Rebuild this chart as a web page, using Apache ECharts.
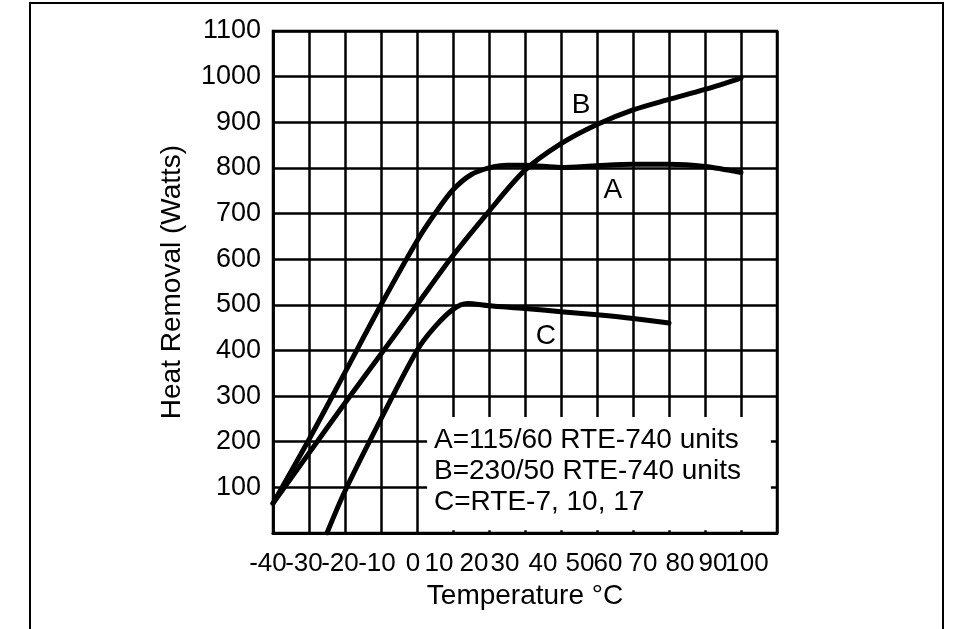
<!DOCTYPE html>
<html>
<head>
<meta charset="utf-8">
<style>
  html, body { margin: 0; padding: 0; background: #fff; }
  #chart { width: 964px; height: 629px; }
</style>
<script src="https://cdn.jsdelivr.net/npm/echarts@6/dist/echarts.min.js"></script>
</head>
<body>
<div id="chart"></div>
<script>
// ---- data ----
const tempA = [-40, -30, -20, -10, 0, 5, 10, 15, 20, 25, 30, 40, 50, 60, 70, 80, 90];
const heatA = [65, 205, 352, 500, 640, 700, 752, 785, 800, 806, 806, 801, 805, 808, 808, 803, 790];

const tempB = [-40, -30, -20, -10, 0, 10, 20, 30, 40, 50, 60, 70, 80, 90];
const heatB = [65, 175, 285, 392, 500, 608, 705, 795, 853, 895, 927, 950, 972, 997];

const tempC = [-25, -20, -10, 0, 5, 10, 14, 20, 30, 40, 50, 60, 70];
const heatC = [0, 92, 250, 400, 452, 490, 503, 498, 492, 485, 478, 470, 460];

const xTickLabels = ['-40', '-30', '-20', '-10', '0', '10', '20', '30', '40', '50', '60', '70', '80', '90', '100'];
const yTickLabels = ['', '100', '200', '300', '400', '500', '600', '700', '800', '900', '1000', '1100'];

const curveNames = ['A', 'B', 'C'];
const curveTagX = [54.4, 45.6, 35.8];
const curveTagY = [750, 938, 432];

const legendLines = ['A=115/60 RTE-740 units', 'B=230/50 RTE-740 units', 'C=RTE-7, 10, 17'];

// ---- style constants ----
const FONT = '"Liberation Sans", Arial, Helvetica, sans-serif';
// leftward shift (px) of each x tick label, as in the reference print
const xLabelShift = [5, 5, 5, 4, 4, 14, 15, 20, 18, 17, 25, 26, 25, 28, 30];

function pairs(xs, ys) { return xs.map((x, i) => [x, ys[i]]); }

const rich = {};
xLabelShift.forEach((s, i) => {
  rich['s' + i] = { fontSize: 26, fontFamily: FONT, color: '#000', padding: [0, 2 * s, 0, 0] };
});

// x tick labels split over two coincident axes (even / odd ticks) so none is dropped
function xLabelAxis(parity, extra) {
  return Object.assign({
    type: 'value',
    min: -40, max: 100, interval: 10,
    position: 'bottom',
    axisTick: { show: false },
    axisLabel: {
      margin: 18,
      showMinLabel: true,
      showMaxLabel: true,
      hideOverlap: false,
      formatter: v => {
        const i = Math.round((v + 40) / 10);
        return (i % 2 === parity) ? '{s' + i + '|' + xTickLabels[i] + '}' : '';
      },
      rich: rich,
      fontSize: 26, fontFamily: FONT, color: '#000'
    }
  }, extra);
}

const chart = echarts.init(document.getElementById('chart'), null, { renderer: 'canvas' });

const seriesData = [pairs(tempA, heatA), pairs(tempB, heatB), pairs(tempC, heatC)];

const series = seriesData.map((d, i) => ({
  type: 'line',
  name: curveNames[i],
  xAxisIndex: 0,
  data: d,
  smooth: 0.3,
  symbol: 'none',
  lineStyle: { color: '#000', width: 5, cap: 'round' },
  clip: true,
  markPoint: {
    symbol: 'circle',
    symbolSize: 1,
    itemStyle: { color: 'rgba(0,0,0,0)' },
    label: { show: true, position: 'inside', formatter: curveNames[i], fontSize: 28, fontFamily: FONT, color: '#000' },
    data: [{ coord: [curveTagX[i], curveTagY[i]] }]
  }
}));

// white legend box hiding the grid in the lower right
series[0].markArea = {
  silent: true,
  itemStyle: { color: '#fff', opacity: 1 },
  data: [[{ coord: [2.8, 6] }, { coord: [98.3, 254] }]]
};

chart.setOption({
  animation: false,
  backgroundColor: '#fff',
  grid: { left: 273, top: 31, right: 187, bottom: 96, show: true, borderColor: '#000', borderWidth: 2.5 },
  xAxis: [
    xLabelAxis(0, {
      name: 'Temperature °C',
      nameLocation: 'middle',
      nameGap: 44,
      nameTextStyle: { fontSize: 28, fontFamily: FONT, color: '#000' },
      axisLine: { show: true, onZero: false, lineStyle: { color: '#000', width: 3 } },
      splitLine: { show: true, lineStyle: { color: '#000', width: 2.5 } }
    }),
    xLabelAxis(1, {
      axisLine: { show: false, onZero: false },
      splitLine: { show: false }
    })
  ],
  yAxis: {
    type: 'value',
    min: 0, max: 1100, interval: 100,
    name: 'Heat Removal (Watts)',
    nameLocation: 'middle',
    nameGap: 87,
    nameTextStyle: { fontSize: 28, fontFamily: FONT, color: '#000' },
    axisLine: { show: true, onZero: false, lineStyle: { color: '#000', width: 2.5 } },
    axisTick: { show: false },
    splitLine: { show: true, lineStyle: { color: '#000', width: 2.5 } },
    axisLabel: {
      margin: 12,
      showMinLabel: true,
      showMaxLabel: true,
      formatter: v => yTickLabels[Math.round(v / 100)],
      fontSize: 27, fontFamily: FONT, color: '#000'
    }
  },
  graphic: [
    {
      type: 'polyline',
      shape: { points: [[30, 629], [30, 3], [943, 3], [943, 629]] },
      style: { stroke: '#000', lineWidth: 2, fill: null },
      silent: true
    }
  ].concat(legendLines.map((t, i) => ({
    type: 'text',
    left: 434,
    top: 426 + i * 31,
    z: 10,
    style: { text: t, font: '28px ' + FONT, fill: '#000' },
    silent: true
  }))),
  series: series
});
</script>
</body>
</html>
